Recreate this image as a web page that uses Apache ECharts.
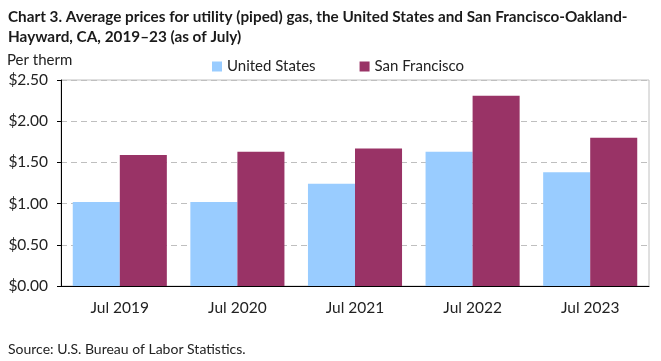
<!DOCTYPE html>
<html><head><meta charset="utf-8">
<script src="https://cdn.jsdelivr.net/npm/echarts@6/dist/echarts.min.js"></script>
<style>html,body{margin:0;padding:0;background:#fff}#c{width:661px;height:361px}</style>
</head><body><div id="c"></div>
<script>
const categories = ['Jul 2019','Jul 2020','Jul 2021','Jul 2022','Jul 2023'];
const usValues = [1.02, 1.02, 1.24, 1.63, 1.38];
const sfValues = [1.59, 1.63, 1.67, 2.31, 1.80];
const seriesNames = ['United States','San Francisco'];
const FONT = 'Lato';
const chart = echarts.init(document.getElementById('c'));
chart.setOption({
  animation:false,
  textStyle:{fontFamily:FONT},
  title:{
    text:'Chart 3. Average prices for utility (piped) gas, the United States and San Francisco-Oakland-\nHayward, CA, 2019–23 (as of July)',
    left:3, top:2,
    textStyle:{fontFamily:FONT, fontWeight:'bold', fontSize:15.3, color:'#1a1a1a', lineHeight:20}
  },
  legend:{
    data:seriesNames, top:54, left:207, itemWidth:10, itemHeight:10, itemGap:44,
    icon:'rect',
    textStyle:{fontFamily:FONT, fontSize:15, color:'#222'}
  },
  graphic:[
    {type:'text', left:7, top:53, style:{text:'Per therm', font:'15px Lato', fill:'#222'}},
    {type:'text', left:8, top:342, style:{text:'Source: U.S. Bureau of Labor Statistics.', font:'14px Lato', fill:'#222'}}
  ],
  grid:{left:61, top:80, right:12, height:206, show:true, borderColor:'#c0c0c0', borderWidth:1},
  xAxis:{
    type:'category', data:categories,
    axisLine:{lineStyle:{color:'#000'}}, axisTick:{show:false},
    axisLabel:{fontFamily:FONT, fontSize:15.5, color:'#222', margin:14}
  },
  yAxis:{
    type:'value', min:0, max:2.5, interval:0.5,
    axisLine:{show:true, lineStyle:{color:'#000'}},
    axisTick:{show:true, length:4, lineStyle:{color:'#000'}},
    splitLine:{lineStyle:{color:'#bfbfbf', type:[6,4]}},
    axisLabel:{fontFamily:FONT, fontSize:15.5, color:'#222', margin:13, formatter:v=>'$'+v.toFixed(2)}
  },
  series:[
    {name:seriesNames[0], type:'bar', data:usValues, itemStyle:{color:'#99ccff'}, barGap:'0%', barCategoryGap:'20%'},
    {name:seriesNames[1], type:'bar', data:sfValues, itemStyle:{color:'#993366'}, barGap:'0%', barCategoryGap:'20%'}
  ]
});
</script></body></html>
